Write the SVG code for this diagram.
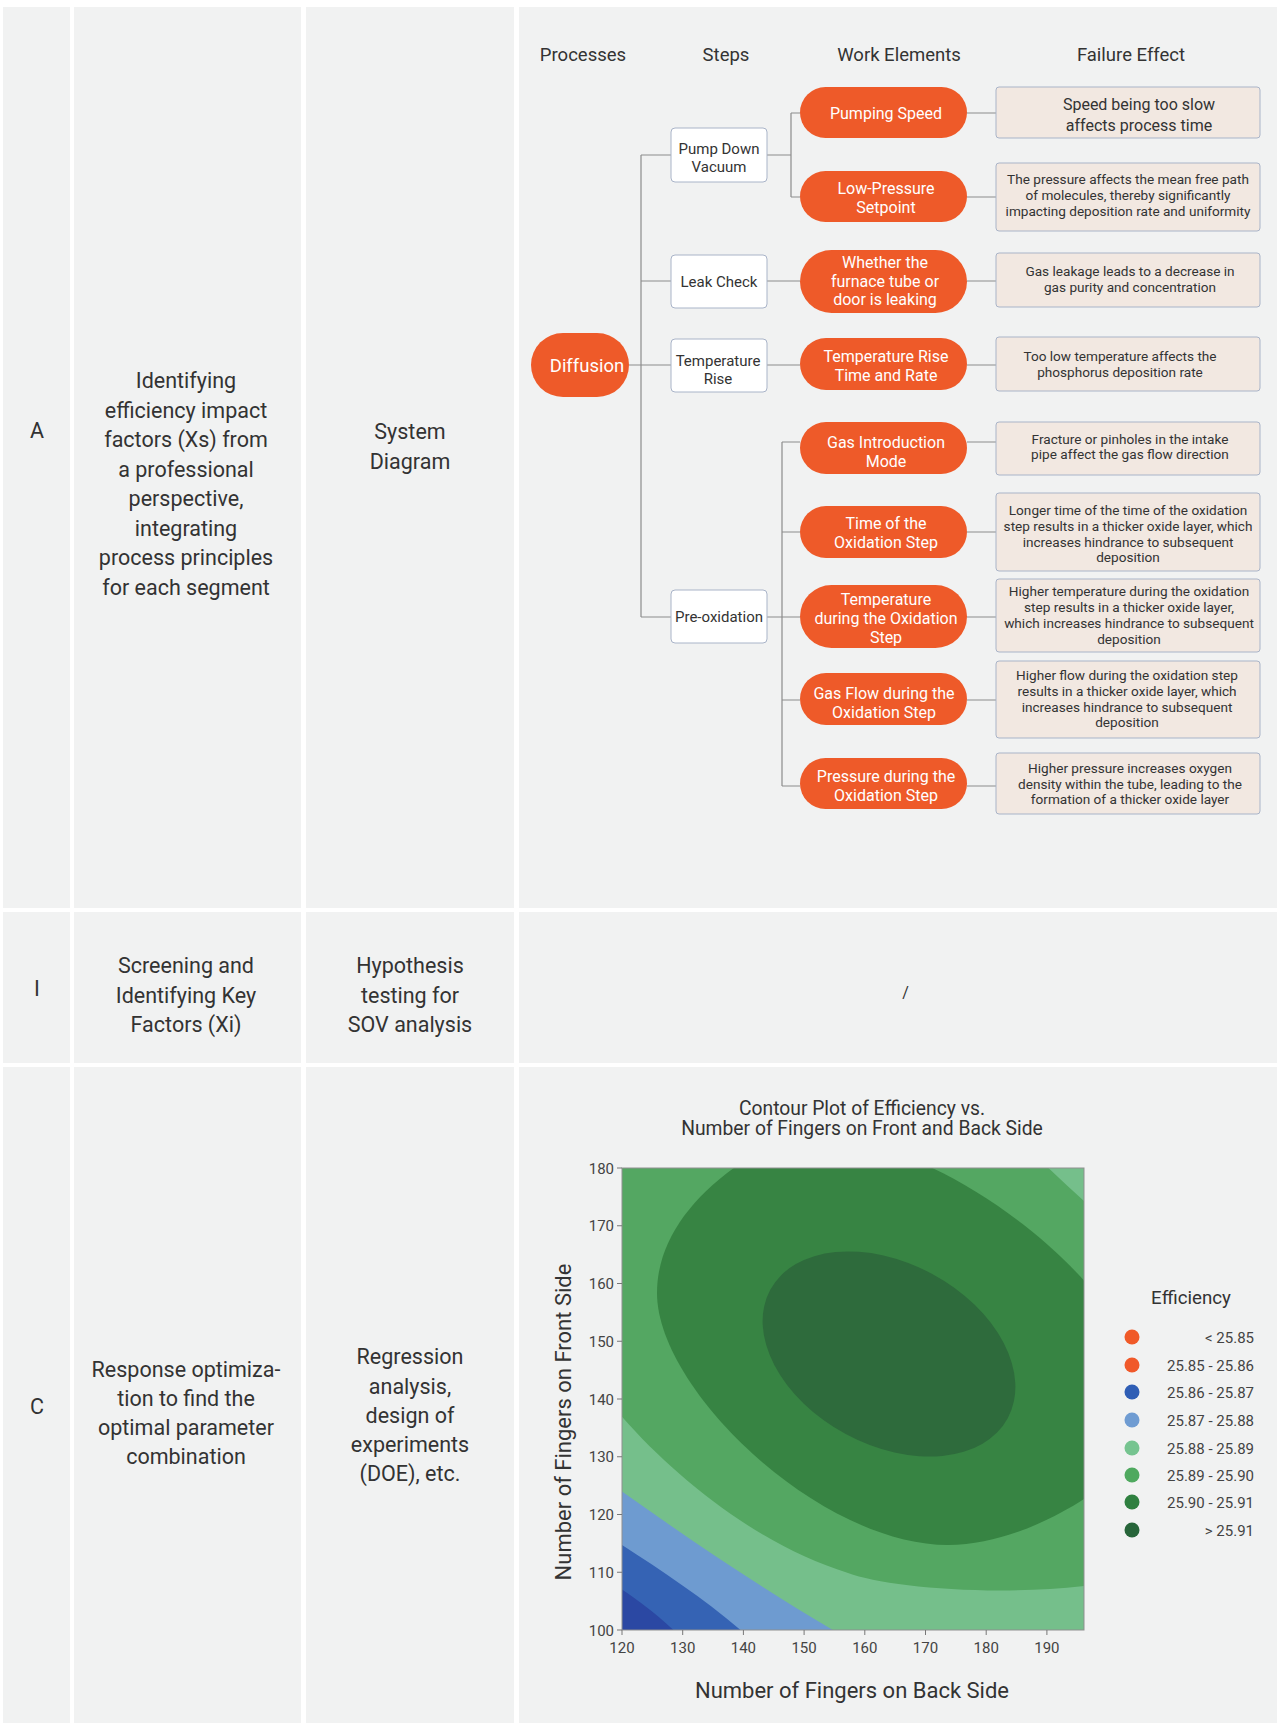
<svg xmlns="http://www.w3.org/2000/svg" width="1280" height="1723" viewBox="0 0 1280 1723">
  <defs>
    <style>
      .cell{fill:#f1f2f2}
      .t{font-family:Roboto,"Liberation Sans",sans-serif;fill:#333;text-anchor:middle}
      .big{font-size:21.5px}
      .hdr{font-size:18.5px}
      .pill{fill:#ee5a29}
      .pt{font-size:16px;fill:#fff}
      .step{fill:#fff;stroke:#a9b4c8;stroke-width:1}
      .st{font-size:15px}
      .fe{fill:#f2e8e1;stroke:#a9b4c8;stroke-width:1}
      .ft{font-size:13.6px}
      .conn{stroke:#8c8c8c;stroke-width:1.2;fill:none}
      .tick{stroke:#777;stroke-width:1}
      .tl{font-size:15px;fill:#444}
      .lg{font-size:15px;fill:#444;text-anchor:end}
    </style>
    <clipPath id="plotClip"><rect x="622" y="1168" width="462" height="462"/></clipPath>
  </defs>

  <rect x="0" y="0" width="1280" height="1723" fill="#fff"/>

  <!-- table cells -->
  <g id="table">
    <rect class="cell" x="3" y="7" width="67" height="901"/>
    <rect class="cell" x="74" y="7" width="227" height="901"/>
    <rect class="cell" x="306" y="7" width="208" height="901"/>
    <rect class="cell" x="519" y="7" width="758" height="901"/>
    <rect class="cell" x="3" y="912" width="67" height="151"/>
    <rect class="cell" x="74" y="912" width="227" height="151"/>
    <rect class="cell" x="306" y="912" width="208" height="151"/>
    <rect class="cell" x="519" y="912" width="758" height="151"/>
    <rect class="cell" x="3" y="1067" width="67" height="656"/>
    <rect class="cell" x="74" y="1067" width="227" height="656"/>
    <rect class="cell" x="306" y="1067" width="208" height="656"/>
    <rect class="cell" x="519" y="1067" width="758" height="656"/>
  </g>

  <!-- row A -->
  <g id="rowA" class="t big">
    <text x="37" y="438">A</text>
    <text x="186" y="388">Identifying</text>
    <text x="186" y="417.5">efficiency impact</text>
    <text x="186" y="447">factors (Xs) from</text>
    <text x="186" y="476.5">a professional</text>
    <text x="186" y="506">perspective,</text>
    <text x="186" y="535.5">integrating</text>
    <text x="186" y="565">process principles</text>
    <text x="186" y="594.5">for each segment</text>
    <text x="410" y="439">System</text>
    <text x="410" y="468.5">Diagram</text>
  </g>

  <!-- row I -->
  <g id="rowI" class="t big">
    <text x="37" y="995.5">I</text>
    <text x="186" y="973">Screening and</text>
    <text x="186" y="1003">Identifying Key</text>
    <text x="186" y="1032">Factors (Xi)</text>
    <text x="410" y="973">Hypothesis</text>
    <text x="410" y="1003">testing for</text>
    <text x="410" y="1032">SOV analysis</text>
    <text x="905.5" y="997.5" style="font-size:16px">/</text>
  </g>

  <!-- row C -->
  <g id="rowC" class="t big">
    <text x="37" y="1414">C</text>
    <text x="186" y="1377">Response optimiza-</text>
    <text x="186" y="1406">tion to find the</text>
    <text x="186" y="1435">optimal parameter</text>
    <text x="186" y="1464">combination</text>
    <text x="410" y="1364">Regression</text>
    <text x="410" y="1393.5">analysis,</text>
    <text x="410" y="1422.5">design of</text>
    <text x="410" y="1452">experiments</text>
    <text x="410" y="1481">(DOE), etc.</text>
  </g>

  <!-- tree headers -->
  <g id="headers" class="t hdr">
    <text x="583" y="61">Processes</text>
    <text x="726" y="61">Steps</text>
    <text x="899" y="61">Work Elements</text>
    <text x="1131" y="61">Failure Effect</text>
  </g>

  <!-- tree connectors -->
  <g id="connectors" class="conn">
    <path d="M629,365 H671"/>
    <path d="M641,155 V617"/>
    <path d="M641,155 H671 M641,281 H671 M641,617 H671"/>
    <path d="M767,155 H791 M791,113 V197 M791,113 H800 M791,197 H800"/>
    <path d="M767,281 H800"/>
    <path d="M767,365 H800"/>
    <path d="M767,617 H782 M782,442 V786"/>
    <path d="M782,442 H800 M782,532 H800 M782,617 H800 M782,700 H800 M782,786 H800"/>
    <path d="M967,113 H996 M967,197 H996 M967,281 H996 M967,365 H996 M967,442 H996 M967,532 H996 M967,617 H996 M967,700 H996 M967,786 H996"/>
  </g>

  <!-- process -->
  <g id="diffusion">
    <rect class="pill" x="531" y="333" width="98" height="64" rx="32"/>
    <text class="t pt" x="587" y="371.5" style="font-size:18.5px">Diffusion</text>
  </g>

  <!-- steps -->
  <g id="step-pump-down">
    <rect class="step" x="671" y="128" width="96" height="54" rx="4"/>
    <text class="t st" x="719" y="153.5">Pump Down</text>
    <text class="t st" x="719" y="172">Vacuum</text>
  </g>
  <g id="step-leak-check">
    <rect class="step" x="671" y="255" width="96" height="53" rx="4"/>
    <text class="t st" x="719" y="286.5">Leak Check</text>
  </g>
  <g id="step-temperature-rise">
    <rect class="step" x="671" y="339" width="96" height="53" rx="4"/>
    <text class="t st" x="718" y="365.5">Temperature</text>
    <text class="t st" x="718" y="384">Rise</text>
  </g>
  <g id="step-pre-oxidation">
    <rect class="step" x="671" y="590" width="96" height="53" rx="4"/>
    <text class="t st" x="719" y="622">Pre-oxidation</text>
  </g>

  <!-- work elements -->
  <g id="we-pumping-speed">
    <rect class="pill" x="800" y="87" width="167" height="51" rx="25.5"/>
    <text class="t pt" x="886" y="118.5">Pumping Speed</text>
  </g>
  <g id="we-low-pressure">
    <rect class="pill" x="800" y="171" width="167" height="51" rx="25.5"/>
    <text class="t pt" x="886" y="194">Low-Pressure</text>
    <text class="t pt" x="886" y="213">Setpoint</text>
  </g>
  <g id="we-leak">
    <rect class="pill" x="800" y="250" width="167" height="63" rx="31.5"/>
    <text class="t pt" x="885" y="267.5">Whether the</text>
    <text class="t pt" x="885" y="286.5">furnace tube or</text>
    <text class="t pt" x="885" y="305">door is leaking</text>
  </g>
  <g id="we-temp-rise">
    <rect class="pill" x="800" y="338" width="167" height="52" rx="26"/>
    <text class="t pt" x="886" y="361.5">Temperature Rise</text>
    <text class="t pt" x="886" y="380.5">Time and Rate</text>
  </g>
  <g id="we-gas-intro">
    <rect class="pill" x="800" y="422" width="167" height="52" rx="26"/>
    <text class="t pt" x="886" y="448">Gas Introduction</text>
    <text class="t pt" x="886" y="467">Mode</text>
  </g>
  <g id="we-ox-time">
    <rect class="pill" x="800" y="506" width="167" height="52" rx="26"/>
    <text class="t pt" x="886" y="529">Time of the</text>
    <text class="t pt" x="886" y="548">Oxidation Step</text>
  </g>
  <g id="we-ox-temp">
    <rect class="pill" x="800" y="585" width="167" height="63" rx="31.5"/>
    <text class="t pt" x="886" y="605">Temperature</text>
    <text class="t pt" x="886" y="624">during the Oxidation</text>
    <text class="t pt" x="886" y="643">Step</text>
  </g>
  <g id="we-ox-flow">
    <rect class="pill" x="800" y="673" width="167" height="52" rx="26"/>
    <text class="t pt" x="884" y="698.5">Gas Flow during the</text>
    <text class="t pt" x="884" y="717.5">Oxidation Step</text>
  </g>
  <g id="we-ox-pressure">
    <rect class="pill" x="800" y="758" width="167" height="51" rx="25.5"/>
    <text class="t pt" x="886" y="782">Pressure during the</text>
    <text class="t pt" x="886" y="801">Oxidation Step</text>
  </g>

  <!-- failure effects -->
  <g id="fe-1">
    <rect class="fe" x="996" y="87" width="264" height="51" rx="3"/>
    <text class="t" x="1139" y="110" style="font-size:16px">Speed being too slow</text>
    <text class="t" x="1139" y="131" style="font-size:16px">affects process time</text>
  </g>
  <g id="fe-2">
    <rect class="fe" x="996" y="163" width="264" height="68" rx="3"/>
    <text class="t ft" x="1128" y="183.5">The pressure affects the mean free path</text>
    <text class="t ft" x="1128" y="199.5">of molecules, thereby significantly</text>
    <text class="t ft" x="1128" y="215.5">impacting deposition rate and uniformity</text>
  </g>
  <g id="fe-3">
    <rect class="fe" x="996" y="253" width="264" height="54" rx="3"/>
    <text class="t ft" x="1130" y="276">Gas leakage leads to a decrease in</text>
    <text class="t ft" x="1130" y="292">gas purity and concentration</text>
  </g>
  <g id="fe-4">
    <rect class="fe" x="996" y="337" width="264" height="54" rx="3"/>
    <text class="t ft" x="1120" y="361">Too low temperature affects the</text>
    <text class="t ft" x="1120" y="377">phosphorus deposition rate</text>
  </g>
  <g id="fe-5">
    <rect class="fe" x="996" y="422" width="264" height="53" rx="3"/>
    <text class="t ft" x="1130" y="443.5">Fracture or pinholes in the intake</text>
    <text class="t ft" x="1130" y="459">pipe affect the gas flow direction</text>
  </g>
  <g id="fe-6">
    <rect class="fe" x="996" y="493" width="264" height="78" rx="3"/>
    <text class="t ft" x="1128" y="514.5">Longer time of the time of the oxidation</text>
    <text class="t ft" x="1128" y="530.5">step results in a thicker oxide layer, which</text>
    <text class="t ft" x="1128" y="546.5">increases hindrance to subsequent</text>
    <text class="t ft" x="1128" y="562">deposition</text>
  </g>
  <g id="fe-7">
    <rect class="fe" x="996" y="579" width="264" height="73" rx="3"/>
    <text class="t ft" x="1129" y="596">Higher temperature during the oxidation</text>
    <text class="t ft" x="1129" y="612">step results in a thicker oxide layer,</text>
    <text class="t ft" x="1129" y="628">which increases hindrance to subsequent</text>
    <text class="t ft" x="1129" y="643.5">deposition</text>
  </g>
  <g id="fe-8">
    <rect class="fe" x="996" y="661" width="264" height="77" rx="3"/>
    <text class="t ft" x="1127" y="680">Higher flow during the oxidation step</text>
    <text class="t ft" x="1127" y="695.5">results in a thicker oxide layer, which</text>
    <text class="t ft" x="1127" y="711.5">increases hindrance to subsequent</text>
    <text class="t ft" x="1127" y="727">deposition</text>
  </g>
  <g id="fe-9">
    <rect class="fe" x="996" y="753" width="264" height="61" rx="3"/>
    <text class="t ft" x="1130" y="773">Higher pressure increases oxygen</text>
    <text class="t ft" x="1130" y="788.5">density within the tube, leading to the</text>
    <text class="t ft" x="1130" y="804">formation of a thicker oxide layer</text>
  </g>

  <!-- contour plot -->
  <g id="contour-plot">
    <text class="t" x="862" y="1115" style="font-size:19.3px">Contour Plot of Efficiency vs.</text>
    <text class="t" x="862" y="1135" style="font-size:19.3px">Number of Fingers on Front and Back Side</text>

    <g clip-path="url(#plotClip)">
      <rect x="622" y="1168" width="462" height="462" fill="#2b48a3"/>
      <path fill="#3563b4" d="M604,1578 C628,1593 652,1609 684,1640 L1100,1642 L1100,1150 L600,1150 Z"/>
      <path fill="#6e9bd0" d="M600,1531 C650,1563 705,1598 752,1640 L1100,1642 L1100,1150 L600,1150 Z"/>
      <path fill="#75bf8b" d="M600,1476 C680,1533 760,1588 850,1640 L1100,1642 L1100,1150 L600,1150 Z"/>
      <path fill="#54a762" d="M600,1150 L600,1390 C655,1462 750,1543 848,1573 C885,1587 1000,1598 1100,1584 L1100,1215 Q1062,1182 1028,1148 Z"/>
      <path fill="#378443" d="M765,1148 C700,1185 657,1235 657,1293 C657,1390 820,1545 948,1545 C1010,1545 1070,1510 1100,1488 L1100,1300 C1055,1240 960,1170 884,1150 Z"/>
      <ellipse fill="#2e6b3c" cx="889" cy="1354" rx="135" ry="91" transform="rotate(28.4 889 1354)"/>
    </g>
    <rect x="622" y="1168" width="462" height="462" fill="none" stroke="#8f8f8f" stroke-width="1"/>

    <!-- y axis ticks -->
    <path class="tick" d="M617,1168 H622 M617,1225.75 H622 M617,1283.5 H622 M617,1341.25 H622 M617,1399 H622 M617,1456.75 H622 M617,1514.5 H622 M617,1572.25 H622 M617,1630 H622"/>
    <g class="t tl" style="text-anchor:end">
      <text x="614" y="1173.5">180</text>
      <text x="614" y="1231">170</text>
      <text x="614" y="1289">160</text>
      <text x="614" y="1346.5">150</text>
      <text x="614" y="1404.5">140</text>
      <text x="614" y="1462">130</text>
      <text x="614" y="1520">120</text>
      <text x="614" y="1577.5">110</text>
      <text x="614" y="1635.5">100</text>
    </g>
    <!-- x axis ticks -->
    <path class="tick" d="M622,1630 V1635 M682.7,1630 V1635 M743.4,1630 V1635 M804.1,1630 V1635 M864.8,1630 V1635 M925.5,1630 V1635 M986.2,1630 V1635 M1046.9,1630 V1635"/>
    <g class="t tl">
      <text x="622" y="1653">120</text>
      <text x="682.7" y="1653">130</text>
      <text x="743.4" y="1653">140</text>
      <text x="804.1" y="1653">150</text>
      <text x="864.8" y="1653">160</text>
      <text x="925.5" y="1653">170</text>
      <text x="986.2" y="1653">180</text>
      <text x="1046.9" y="1653">190</text>
    </g>
    <text class="t" x="852" y="1698" style="font-size:22px">Number of Fingers on Back Side</text>
    <text class="t" x="571" y="1422" style="font-size:22px" transform="rotate(-90 571 1422)">Number of Fingers on Front Side</text>

    <!-- legend -->
    <g id="legend">
      <text class="t" x="1191" y="1304" style="font-size:18.7px">Efficiency</text>
      <circle cx="1132" cy="1337" r="7.5" fill="#f05a28"/>
      <circle cx="1132" cy="1365" r="7.5" fill="#f0592a"/>
      <circle cx="1132" cy="1392" r="7.5" fill="#2f5eb5"/>
      <circle cx="1132" cy="1420" r="7.5" fill="#6f9cd2"/>
      <circle cx="1132" cy="1448" r="7.5" fill="#76c490"/>
      <circle cx="1132" cy="1475" r="7.5" fill="#4fa95f"/>
      <circle cx="1132" cy="1502" r="7.5" fill="#2f8040"/>
      <circle cx="1132" cy="1530" r="7.5" fill="#27653a"/>
      <g class="t lg">
        <text x="1254" y="1342.5">&lt; 25.85</text>
        <text x="1254" y="1370.5">25.85 - 25.86</text>
        <text x="1254" y="1397.5">25.86 - 25.87</text>
        <text x="1254" y="1425.5">25.87 - 25.88</text>
        <text x="1254" y="1453.5">25.88 - 25.89</text>
        <text x="1254" y="1480.5">25.89 - 25.90</text>
        <text x="1254" y="1507.5">25.90 - 25.91</text>
        <text x="1254" y="1535.5">&gt; 25.91</text>
      </g>
    </g>
  </g>
</svg>
